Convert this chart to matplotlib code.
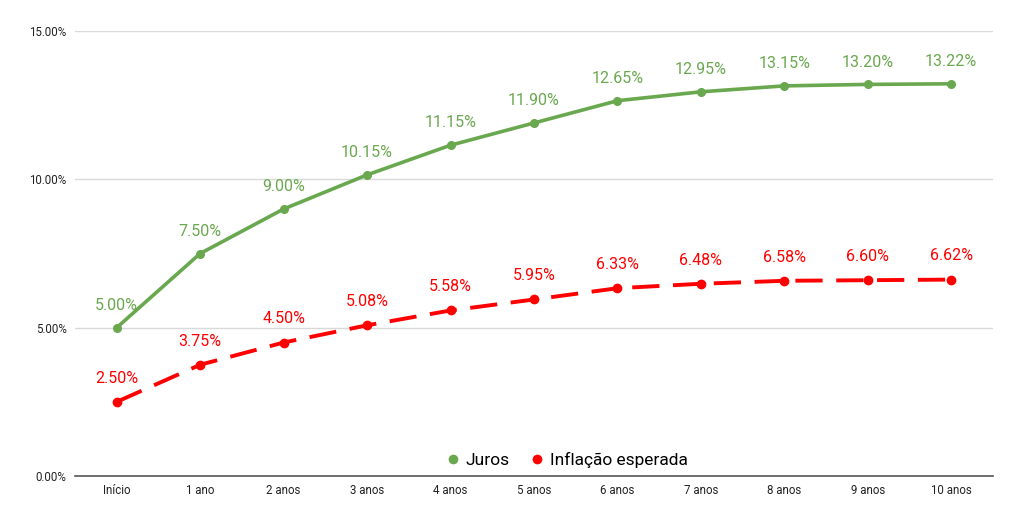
import matplotlib
matplotlib.use('Agg')
import matplotlib.pyplot as plt
from matplotlib.lines import Line2D

# === Data ===
categories = ["Início", "1 ano", "2 anos", "3 anos", "4 anos", "5 anos",
              "6 anos", "7 anos", "8 anos", "9 anos", "10 anos"]
juros = [5.00, 7.50, 9.00, 10.15, 11.15, 11.90, 12.65, 12.95, 13.15, 13.20, 13.22]
inflacao = [2.50, 3.75, 4.50, 5.08, 5.58, 5.95, 6.33, 6.48, 6.58, 6.60, 6.62]

green = "#6aa84f"
red = "#ff0000"

plt.rcParams['font.family'] = ['Roboto', 'DejaVu Sans']

fig = plt.figure(figsize=(10.24, 5.2), dpi=100)
ax = fig.add_axes([75/1024, 44/520, 918/1024, 445/520])

x = list(range(len(categories)))
ax.plot(x, juros, color=green, lw=2.6, marker='o', ms=5.5, zorder=3)
ax.plot(x, inflacao, color=red, lw=2.8, marker='o', ms=6, zorder=3,
        dashes=(7, 3.5))

for xi, v in zip(x, juros):
    ax.annotate(f"{v:.2f}%", (xi, v), xytext=(0, 16), textcoords='offset points',
                ha='center', va='center', color=green, fontsize=11.5)
for xi, v in zip(x, inflacao):
    ax.annotate(f"{v:.2f}%", (xi, v), xytext=(0, 17), textcoords='offset points',
                ha='center', va='center', color=red, fontsize=11.5)

ax.set_xlim(-0.5, len(categories) - 0.5)
ax.set_ylim(0, 15)
ax.set_yticks([0, 5, 10, 15])
ax.set_yticklabels(["0.00%", "5.00%", "10.00%", "15.00%"])
ax.set_xticks(x)
ax.set_xticklabels(categories)
ax.tick_params(axis='both', length=0, labelsize=8.3, colors='#222222')
ax.tick_params(axis='x', pad=6)
ax.tick_params(axis='y', pad=6)

ax.grid(axis='y', color='#d9d9d9', lw=1)
ax.set_axisbelow(True)
for s in ['top', 'right', 'left']:
    ax.spines[s].set_visible(False)
ax.spines['bottom'].set_color('#555555')
ax.spines['bottom'].set_linewidth(1.2)

legend = [
    Line2D([0], [0], marker='o', color='w', label='Juros', markerfacecolor=green, markersize=8),
    Line2D([0], [0], marker='o', color='w', label='Inflação esperada', markerfacecolor=red, markersize=8),
]
ax.legend(handles=legend, loc='center', bbox_to_anchor=(0.534, 0.035), ncol=2,
          frameon=False, fontsize=12.5, handletextpad=0.1, columnspacing=1.0,
          handlelength=1.2)

fig.savefig("out.png", dpi=100)
